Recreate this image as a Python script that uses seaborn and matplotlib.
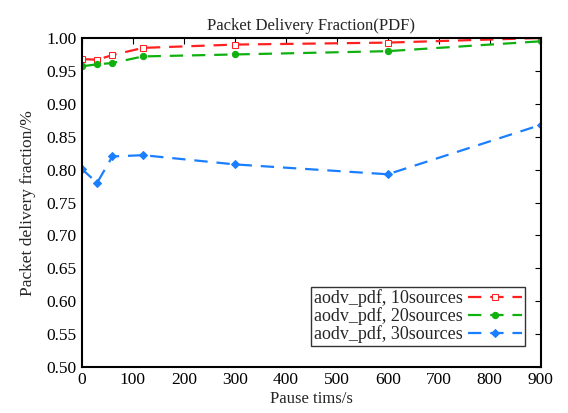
import matplotlib
matplotlib.use("Agg")
import matplotlib.pyplot as plt
import seaborn as sns
import pandas as pd

pause = [0, 30, 60, 120, 300, 600, 900]
pdf10 = [0.968, 0.967, 0.974, 0.985, 0.990, 0.993, 1.000]
pdf20 = [0.957, 0.960, 0.962, 0.972, 0.975, 0.980, 0.995]
pdf30 = [0.801, 0.780, 0.820, 0.822, 0.808, 0.793, 0.868]
labels = ["aodv_pdf, 10sources", "aodv_pdf, 20sources", "aodv_pdf, 30sources"]

sns.set_style("white")
plt.rcParams['font.family'] = ['Liberation Serif', 'DejaVu Serif']

df = pd.DataFrame({
    "pause": pause * 3,
    "pdf": pdf10 + pdf20 + pdf30,
    "series": [labels[0]] * 7 + [labels[1]] * 7 + [labels[2]] * 7,
})

fig = plt.figure(figsize=(5.68, 4.13), dpi=100)
ax = fig.add_axes([0.144, 0.111, 0.808, 0.797])

colors = ["#ff2020", "#10b010", "#1a7fff"]
markers = ["s", "o", "D"]
for lab, c, m in zip(labels, colors, markers):
    sub = df[df.series == lab]
    sns.lineplot(data=sub, x="pause", y="pdf", ax=ax, color=c, linestyle=(0, (6, 4)),
                 linewidth=1.6, marker=m, markersize=4.5, label=lab,
                 markerfacecolor=c if m != "s" else "white", markeredgecolor=c)

ax.set_xlim(0, 900)
ax.set_ylim(0.5, 1.0)
ax.set_xticks(range(0, 1000, 100))
ax.set_yticks([0.5 + 0.05 * i for i in range(11)])
ax.set_yticklabels([f"{0.5 + 0.05 * i:.2f}" for i in range(11)])
ax.tick_params(direction="in", top=True, right=True, length=4, labelsize=12.5, colors="black")
for s in ax.spines.values():
    s.set_color("black")
    s.set_linewidth(1.5)

ax.set_title("Packet Delivery Fraction(PDF)", fontsize=12)
ax.set_xlabel("Pause tims/s", fontsize=12, labelpad=2)
ax.set_ylabel("Packet delivery fraction/%", fontsize=12.5, labelpad=8)

leg = ax.legend(loc="lower right", bbox_to_anchor=(0.965, 0.065), markerfirst=False,
                fontsize=13, frameon=True, fancybox=False, borderpad=0.15,
                labelspacing=0.0, handlelength=3, handletextpad=0.3, borderaxespad=0.0)
leg.get_frame().set_edgecolor("black")
leg.get_frame().set_linewidth(1.0)

fig.savefig("out.png", dpi=100)
